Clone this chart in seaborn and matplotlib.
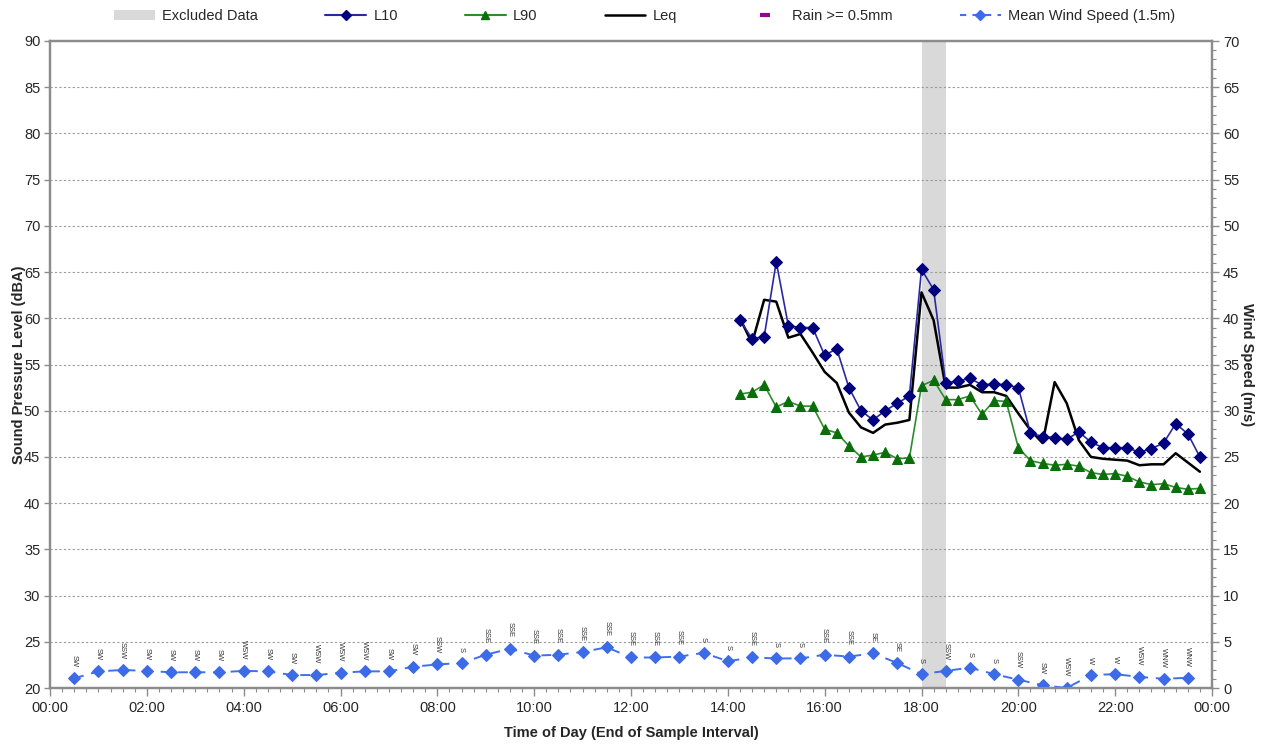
import numpy as np
import pandas as pd
import seaborn as sns
import matplotlib.pyplot as plt
from matplotlib.patches import Patch
from matplotlib.lines import Line2D
from matplotlib.ticker import MultipleLocator, FuncFormatter


# 15 minute sound level data (end of sample interval)
sound_times = ["14:15", "14:30", "14:45", "15:00", "15:15", "15:30", "15:45", "16:00",
               "16:15", "16:30", "16:45", "17:00", "17:15", "17:30", "17:45", "18:00",
               "18:15", "18:30", "18:45", "19:00", "19:15", "19:30", "19:45", "20:00",
               "20:15", "20:30", "20:45", "21:00", "21:15", "21:30", "21:45", "22:00",
               "22:15", "22:30", "22:45", "23:00", "23:15", "23:30", "23:45"]
l10 = [59.8, 57.8, 58.0, 66.1, 59.2, 59.0, 59.0, 56.0,
       56.7, 52.5, 50.0, 49.0, 50.0, 50.8, 51.6, 65.3,
       63.1, 53.0, 53.2, 53.5, 52.8, 52.9, 52.8, 52.5,
       47.6, 47.2, 47.1, 46.9, 47.7, 46.6, 46.0, 46.0,
       46.0, 45.5, 45.9, 46.5, 48.6, 47.5, 45.0]
leq = [60.0, 57.3, 62.0, 61.8, 57.9, 58.3, 56.3, 54.2,
       53.0, 49.8, 48.2, 47.6, 48.5, 48.7, 49.0, 62.8,
       59.8, 52.5, 52.5, 52.8, 52.0, 52.0, 51.6, 49.7,
       47.9, 46.5, 53.1, 50.8, 46.8, 45.0, 44.8, 44.7,
       44.6, 44.1, 44.2, 44.2, 45.4, 44.4, 43.4]
l90 = [51.8, 52.0, 52.8, 50.4, 51.0, 50.5, 50.5, 48.0,
       47.6, 46.2, 45.0, 45.2, 45.5, 44.8, 44.9, 52.7,
       53.3, 51.2, 51.2, 51.6, 49.6, 51.1, 51.0, 46.0,
       44.6, 44.3, 44.1, 44.2, 44.0, 43.3, 43.1, 43.2,
       42.9, 42.3, 42.0, 42.1, 41.7, 41.5, 41.6]

# 30 minute wind data
wind_times = ["00:30", "01:00", "01:30", "02:00", "02:30", "03:00", "03:30", "04:00",
              "04:30", "05:00", "05:30", "06:00", "06:30", "07:00", "07:30", "08:00",
              "08:30", "09:00", "09:30", "10:00", "10:30", "11:00", "11:30", "12:00",
              "12:30", "13:00", "13:30", "14:00", "14:30", "15:00", "15:30", "16:00",
              "16:30", "17:00", "17:30", "18:00", "18:30", "19:00", "19:30", "20:00",
              "20:30", "21:00", "21:30", "22:00", "22:30", "23:00", "23:30"]
wind_speed = [1.05, 1.8, 1.95, 1.85, 1.7, 1.7, 1.7, 1.85,
              1.8, 1.4, 1.4, 1.65, 1.8, 1.8, 2.3, 2.55,
              2.7, 3.6, 4.25, 3.5, 3.6, 3.9, 4.4, 3.3,
              3.3, 3.4, 3.8, 2.9, 3.3, 3.2, 3.2, 3.6,
              3.4, 3.75, 2.7, 1.5, 1.85, 2.2, 1.5, 0.9,
              0.3, 0.0, 1.4, 1.5, 1.2, 1.0, 1.1]
wind_dir = ["SW", "SW", "SSW", "SW", "SW", "SW", "SW", "WSW",
            "SW", "SW", "WSW", "WSW", "WSW", "SW", "SW", "SSW",
            "S", "SSE", "SSE", "SSE", "SSE", "SSE", "SSE", "SSE",
            "SSE", "SSE", "S", "S", "SSE", "S", "S", "SSE",
            "SSE", "SE", "SE", "S", "SSW", "S", "S", "SSW",
            "SW", "WSW", "W", "W", "WSW", "WNW", "WNW"]

excluded_start = "18:00"
excluded_end = "18:30"


def to_hours(t):
    h, m = t.split(":")
    return int(h) + int(m) / 60


sound_df = pd.DataFrame({'hour': [to_hours(t) for t in sound_times],
                         'L10': l10, 'L90': l90, 'Leq': leq})
wind_df = pd.DataFrame({'hour': [to_hours(t) for t in wind_times],
                        'speed': wind_speed, 'dir': wind_dir})

sns.set_theme(style="white")
plt.rcParams['font.family'] = ['Liberation Sans', 'DejaVu Sans']

c_l10_line, c_l10_mark = '#2a2aa0', '#00007f'
c_l90_line, c_l90_mark = '#2e8b2e', '#0a6e0a'
c_wind_line, c_wind_mark = '#3f6fef', '#3d6be8'
c_grey = '#8c8c8c'

fig = plt.figure(figsize=(12.64, 7.45), dpi=100)
ax = fig.add_axes([50 / 1264, 57 / 745, 1162 / 1264, 647 / 745])

ax.axvspan(to_hours(excluded_start), to_hours(excluded_end), color='#d9d9d9', zorder=0, lw=0)

sns.lineplot(data=sound_df, x='hour', y='Leq', ax=ax, color='black', linewidth=1.8, zorder=3)
sns.lineplot(data=sound_df, x='hour', y='L10', ax=ax, color=c_l10_line, linewidth=1.2,
             marker='D', markersize=6, markerfacecolor=c_l10_mark, markeredgecolor=c_l10_mark, zorder=4)
sns.lineplot(data=sound_df, x='hour', y='L90', ax=ax, color=c_l90_line, linewidth=1.2,
             marker='^', markersize=7, markerfacecolor=c_l90_mark, markeredgecolor=c_l90_mark, zorder=4)

ax.set_xlim(0, 24)
ax.set_ylim(20, 90)
ax.yaxis.set_major_locator(MultipleLocator(5))
ax.xaxis.set_major_locator(MultipleLocator(2))
ax.xaxis.set_minor_locator(MultipleLocator(0.25))
ax.xaxis.set_major_formatter(FuncFormatter(lambda h, p: f"{int(round(h)) % 24:02d}:00"))
ax.grid(axis='y', linestyle=(0, (2, 2)), color='#9a9a9a', linewidth=0.8)
ax.grid(axis='x', visible=False)
ax.tick_params(axis='x', which='major', bottom=True, direction='out', length=6, width=1,
               color=c_grey, labelsize=10.5, pad=3)
ax.tick_params(axis='x', which='minor', bottom=True, direction='out', length=3, width=0.8, color=c_grey)
ax.tick_params(axis='y', which='major', left=True, direction='out', length=4, width=1,
               color=c_grey, labelsize=10.5, pad=3)

ax.set_xlabel('Time of Day (End of Sample Interval)', fontweight='bold', fontsize=10.5)
ax.set_ylabel('Sound Pressure Level (dBA)', fontweight='bold', fontsize=10.5)
ax.xaxis.set_label_coords(0.5, -0.058)
ax.yaxis.set_label_coords(-0.021, 0.5)

for s in ax.spines.values():
    s.set_color(c_grey)
    s.set_linewidth(1.6)

# wind speed on the secondary axis
ax2 = ax.twinx()
sns.lineplot(data=wind_df, x='hour', y='speed', ax=ax2, color=c_wind_line, linewidth=1.4,
             linestyle=(0, (5, 4)), marker='D', markersize=6,
             markerfacecolor=c_wind_mark, markeredgecolor=c_wind_mark)
for h, v, d in zip(wind_df['hour'], wind_df['speed'], wind_df['dir']):
    ax2.annotate(d, (h, v), xytext=(0, 8), textcoords='offset points', rotation=270,
                 ha='center', va='bottom', fontsize=5.5, color='#333333')

ax2.set_ylim(0, 70)
ax2.set_xlim(0, 24)
ax2.yaxis.set_major_locator(MultipleLocator(5))
ax2.yaxis.set_minor_locator(MultipleLocator(1))
ax2.tick_params(axis='y', which='major', right=True, direction='out', length=5, width=1,
                color=c_grey, labelsize=10.5, pad=3)
ax2.tick_params(axis='y', which='minor', right=True, direction='out', length=3, width=0.8, color=c_grey)
ax2.set_ylabel('Wind Speed (m/s)', fontweight='bold', fontsize=10.5, rotation=270)
ax2.yaxis.set_label_coords(1.036, 0.5)
ax2.grid(False)
for s in ax2.spines.values():
    s.set_color(c_grey)
    s.set_linewidth(1.6)

handles = [
    Patch(facecolor='#d9d9d9', edgecolor='none', label='Excluded Data'),
    Line2D([], [], color=c_l10_line, marker='D', markersize=5, markerfacecolor=c_l10_mark,
           markeredgecolor=c_l10_mark, label='L10'),
    Line2D([], [], color=c_l90_line, marker='^', markersize=6, markerfacecolor=c_l90_mark,
           markeredgecolor=c_l90_mark, label='L90'),
    Line2D([], [], color='black', linewidth=1.8, label='Leq'),
    Line2D([], [], color='#8b0a8b', marker='_', linestyle='none', markersize=7,
           markeredgewidth=3, label='Rain >= 0.5mm'),
    Line2D([], [], color=c_wind_line, linestyle=(0, (3, 3)), marker='D', markersize=5,
           markerfacecolor=c_wind_mark, markeredgecolor=c_wind_mark, label='Mean Wind Speed (1.5m)'),
]
fig.legend(handles=handles, loc='center', bbox_to_anchor=(0.51, 0.978), ncol=6, frameon=False,
           fontsize=10.5, columnspacing=4.6, handlelength=2.8, handletextpad=0.5)

fig.savefig('out.png', dpi=100)
